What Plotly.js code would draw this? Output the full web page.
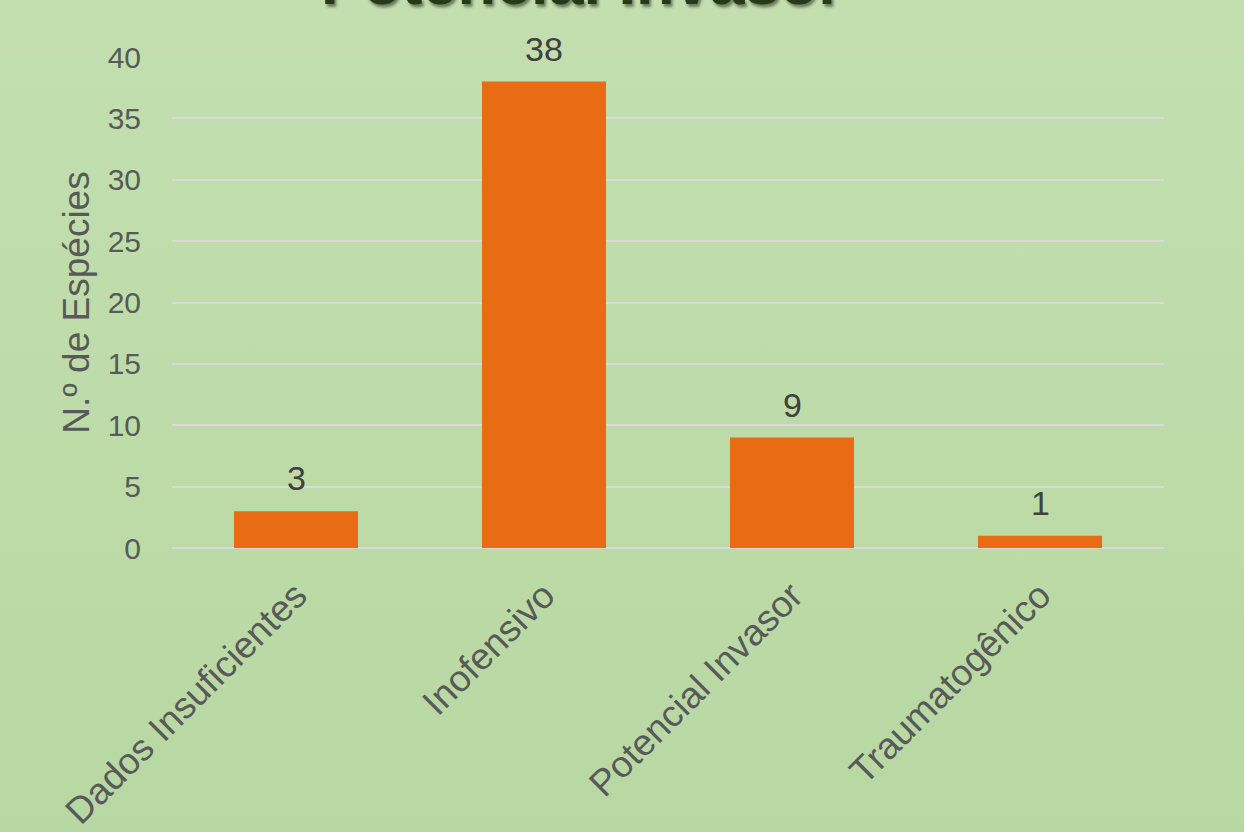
<!DOCTYPE html>
<html><head><meta charset="utf-8">
<script src="https://cdn.plot.ly/plotly-3.0.1.min.js"></script>
<style>
html,body{margin:0;padding:0;}
body{width:1244px;height:832px;background:linear-gradient(180deg,#c3dfb0 0%,#bcdba7 60%,#b8d8a3 100%);}
#chart{width:1244px;height:832px;}
</style></head><body>
<div id="chart"></div>
<script>
const titleText = "Potencial Invasor";
const categories = ["Dados Insuficientes","Inofensivo","Potencial Invasor","Traumatogênico"];
const values = [3,38,9,1];
const yTitle = "N.º de Espécies";

const FONT = "Liberation Sans, Arial, Helvetica, sans-serif";
const trace = {
  type:"bar", x:categories, y:values,
  marker:{color:"#e96c14"},
  hoverinfo:"skip"
};
const labelAnns = categories.map((c,i)=>({
  x:c, y:values[i], xref:"x", yref:"y", text:String(values[i]),
  showarrow:false, yanchor:"bottom", yshift:12,
  font:{family:FONT, size:34, color:"#404040"}
}));
const layout = {
  width:1244, height:832,
  paper_bgcolor:"rgba(0,0,0,0)", plot_bgcolor:"rgba(0,0,0,0)",
  margin:{l:172,r:80,t:57,b:284},
  bargap:0.5,
  showlegend:false,
  font:{family:FONT, color:"#595959"},
  xaxis:{tickangle:-45, tickfont:{size:37,color:"#595959"}, showgrid:false, showline:false,
    ticks:"outside", ticklen:10, tickcolor:"rgba(0,0,0,0)", automargin:false},
  yaxis:{range:[0,40], dtick:5, tickfont:{size:30,color:"#595959"},
    gridcolor:"#dadada", gridwidth:2, zeroline:true, zerolinecolor:"#dadada", zerolinewidth:2,
    ticks:"outside", ticklen:24, tickcolor:"rgba(0,0,0,0)", automargin:false,
    title:{text:yTitle, font:{size:37,color:"#595959"}, standoff:6}},
  annotations:[{text:titleText, xref:"paper", yref:"paper", x:0.413, y:1.078, xanchor:"center", yanchor:"bottom",
    showarrow:false, font:{family:FONT, size:63, color:"#253a17", weight:"bold",
    shadow:"2px 3px 3px rgba(0,0,0,0.45)"}}].concat(labelAnns)
};
Plotly.newPlot("chart",[trace],layout,{displayModeBar:false,staticPlot:true});
</script>
</body></html>
